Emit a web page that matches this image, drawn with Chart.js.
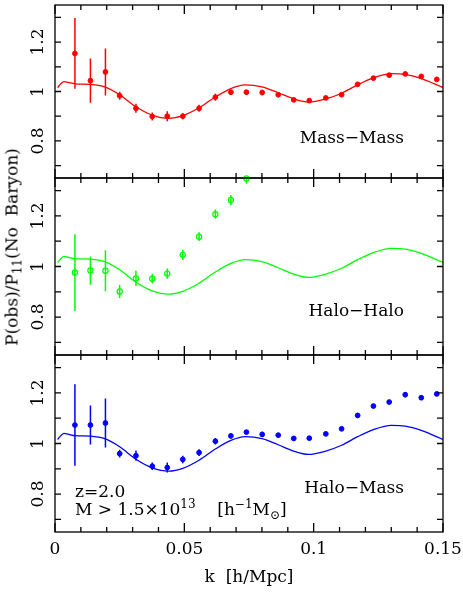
<!DOCTYPE html>
<html>
<head>
<meta charset="utf-8">
<script src="https://cdn.jsdelivr.net/npm/chart.js@4.4.1/dist/chart.umd.min.js"></script>
<style>
  body { margin: 0; background: #fff; }
  #wrap { position: relative; width: 463px; height: 595px; overflow: hidden; }
  #wrap canvas { position: absolute; left: 0; }
  #ytitle {
    position: absolute; left: 13px; top: 247px;
    transform: translate(-50%, -50%) rotate(-90deg);
    font: 17px "DejaVu Serif", serif; white-space: pre; color: #000;
  }
  #ytitle sub { font-size: 12px; vertical-align: -4px; }
</style>
</head>
<body>
<div id="wrap">
  <canvas id="c1" width="463" height="190" style="top:0px"></canvas>
  <canvas id="c2" width="463" height="201" style="top:166px"></canvas>
  <canvas id="c3" width="463" height="252" style="top:343px"></canvas>
  <div id="ytitle">P(obs)/P<sub>11</sub>(No  Baryon)</div>
</div>
<script>
// measured k bins [h/Mpc]
const kBins = [0.0077, 0.0137, 0.0195, 0.0250, 0.0313, 0.0376, 0.0434, 0.0494,
               0.0557, 0.0620, 0.0680, 0.0740, 0.0801, 0.0863, 0.0923, 0.0983,
               0.1047, 0.1108, 0.1170, 0.1231, 0.1292, 0.1354, 0.1416, 0.1476];

const massMass = [1.154, 1.044, 1.079, 0.983, 0.932, 0.899, 0.900, 0.900,
                  0.932, 0.977, 0.997, 0.997, 0.996, 0.987, 0.966, 0.963,
                  0.974, 0.987, 1.029, 1.054, 1.066, 1.071, 1.061, 1.049];
const massMassErr = [0.143, 0.090, 0.095, 0.016, 0.018, 0.016, 0.020, 0.012,
                     0.014, 0.014, 0.010, 0.010, 0.011, 0.010, 0.008, 0.008,
                     0.008, 0.008, 0.008, 0.007, 0.007, 0.007, 0.007, 0.007];

const haloHalo = [0.976, 0.984, 0.983, 0.901, 0.953, 0.952, 0.972, 1.046,
                  1.118, 1.207, 1.263, 1.348];
const haloHaloErr = [0.152, 0.056, 0.081, 0.026, 0.030, 0.019, 0.020, 0.020,
                     0.017, 0.018, 0.020, 0.020];

const haloMass = [1.073, 1.073, 1.081, 0.960, 0.952, 0.910, 0.905, 0.937,
                  0.964, 1.009, 1.030, 1.045, 1.036, 1.033, 1.020, 1.021,
                  1.038, 1.058, 1.111, 1.148, 1.164, 1.193, 1.181, 1.196];
const haloMassErr = [0.161, 0.077, 0.097, 0.015, 0.020, 0.015, 0.020, 0.015,
                     0.013, 0.013, 0.010, 0.008, 0.010, 0.008, 0.007, 0.007,
                     0.008, 0.008, 0.010, 0.008, 0.008, 0.010, 0.008, 0.008];

// linear-theory ratio curve
const kModel = [0.0010, 0.0025, 0.0035, 0.0050, 0.0077, 0.0137, 0.0195, 0.0250,
                0.0313, 0.0376, 0.0440, 0.0494, 0.0557, 0.0620, 0.0680, 0.0735,
                0.0800, 0.0863, 0.0923, 0.0980, 0.1047, 0.1108, 0.1170, 0.1231,
                0.1300, 0.1354, 0.1416, 0.1500];
const model = [1.016, 1.034, 1.040, 1.037, 1.031, 1.029, 1.018, 0.987,
               0.938, 0.904, 0.891, 0.902, 0.934, 0.978, 1.012, 1.027,
               1.019, 0.995, 0.970, 0.957, 0.970, 0.993, 1.027, 1.055,
               1.072, 1.069, 1.052, 1.016];

const xMajorTicks = [0, 0.05, 0.1, 0.15];
const xTickLabels = ['0', '0.05', '0.1', '0.15'];
const xMinorTicks = [0.01, 0.02, 0.03, 0.04, 0.06, 0.07, 0.08, 0.09,
                     0.11, 0.12, 0.13, 0.14];
const yTicks = [0.7, 0.8, 0.9, 1.0, 1.1, 1.2, 1.3];
const yLabelValues = [0.8, 1.0, 1.2];
const yTickLabels = ['0.8', '1', '1.2'];

const panelNames = ['Mass\u2212Mass', 'Halo\u2212Halo', 'Halo\u2212Mass'];
const FONT = '17px "DejaVu Serif", serif';

function errSegments(k, v, e) {
  const out = [];
  k.forEach((kk, i) => {
    out.push({x: kk, y: v[i] - e[i]}, {x: kk, y: v[i] + e[i]}, {x: kk, y: null});
  });
  return out;
}
function pts(k, v) { return v.map((y, i) => ({x: k[i], y})); }

// frame, inward ticks, rotated y labels, panel names
const framePlugin = {
  id: 'frame',
  afterDraw(chart, args, opts) {
    const {ctx, chartArea: a, scales: {x, y}} = chart;
    ctx.save();
    ctx.strokeStyle = '#000';
    ctx.lineWidth = 1.3;
    ctx.strokeRect(a.left, a.top, a.right - a.left, a.bottom - a.top);
    ctx.beginPath();
    const xt = (v, len) => {
      const px = x.getPixelForValue(v);
      ctx.moveTo(px, a.bottom); ctx.lineTo(px, a.bottom - len);
      ctx.moveTo(px, a.top); ctx.lineTo(px, a.top + len);
    };
    xMajorTicks.forEach(v => xt(v, 9));
    xMinorTicks.forEach(v => xt(v, 5));
    yTicks.forEach(v => {
      const py = y.getPixelForValue(v);
      ctx.moveTo(a.left, py); ctx.lineTo(a.left + 6, py);
      ctx.moveTo(a.right, py); ctx.lineTo(a.right - 6, py);
    });
    ctx.stroke();

    ctx.fillStyle = '#000';
    ctx.font = FONT;
    ctx.textBaseline = 'alphabetic';
    yLabelValues.forEach((v, i) => {
      ctx.save();
      ctx.translate(a.left - 12, y.getPixelForValue(v));
      ctx.rotate(-Math.PI / 2);
      ctx.textAlign = 'center';
      ctx.fillText(yTickLabels[i], 0, 0);
      ctx.restore();
    });

    ctx.textAlign = 'right';
    ctx.fillText(opts.name, 404, a.top + 137.5);

    if (opts.bottom) {
      ctx.textAlign = 'center';
      xMajorTicks.forEach((v, i) => ctx.fillText(xTickLabels[i], x.getPixelForValue(v), a.bottom + 22));
      ctx.fillText('k  [h/Mpc]', (a.left + a.right) / 2, a.bottom + 50);

      ctx.textAlign = 'left';
      ctx.fillText('z=2.0', 75, a.top + 142);
      // M > 1.5x10^13  [h^-1 M_sun]
      let cx = 75;
      const by = a.top + 160;
      const put = (t, dy, font) => {
        ctx.font = font;
        ctx.fillText(t, cx, by + dy);
        cx += ctx.measureText(t).width;
      };
      const small = '12px "DejaVu Serif", serif';
      put('M > 1.5\u00d710', 0, FONT);
      put('13', -7, small);
      put('    [h', 0, FONT);
      put('\u22121', -7, small);
      put('M', 0, FONT);
      put('\u2299', 4, small);
      put(']', 0, FONT);
    }
    ctx.restore();
  }
};

function makePanel(id, color, k, vals, errs, filled, name, pad, bottom) {
  return new Chart(document.getElementById(id), {
    type: 'scatter',
    data: {
      datasets: [
        {
          data: pts(k, vals),
          pointRadius: filled ? 2.4 : 2.6,
          pointBackgroundColor: filled ? color : 'rgba(0,0,0,0)',
          pointBorderColor: color,
          pointBorderWidth: filled ? 1 : 1.2,
          clip: false
        },
        {
          data: errSegments(k, vals, errs),
          showLine: true,
          spanGaps: false,
          borderColor: color,
          borderWidth: 1.5,
          pointRadius: 0
        },
        {
          data: pts(kModel, model),
          showLine: true,
          borderColor: color,
          borderWidth: 1.3,
          pointRadius: 0,
          cubicInterpolationMode: 'monotone'
        }
      ]
    },
    options: {
      responsive: false,
      animation: false,
      events: [],
      layout: {padding: pad},
      plugins: {
        legend: {display: false},
        tooltip: {enabled: false},
        frame: {name, bottom}
      },
      scales: {
        x: {type: 'linear', min: 0, max: 0.15, display: false},
        y: {type: 'linear', min: 0.65, max: 1.35, display: false}
      }
    },
    plugins: [framePlugin]
  });
}

makePanel('c1', '#ff0000', kBins, massMass, massMassErr, true, panelNames[0],
          {left: 55, right: 20, top: 1, bottom: 12}, false);
makePanel('c2', '#00ff00', kBins.slice(0, haloHalo.length), haloHalo, haloHaloErr, false, panelNames[1],
          {left: 55, right: 20, top: 12, bottom: 12}, false);
makePanel('c3', '#0000ff', kBins, haloMass, haloMassErr, true, panelNames[2],
          {left: 55, right: 20, top: 12, bottom: 63}, true);
</script>
</body>
</html>
